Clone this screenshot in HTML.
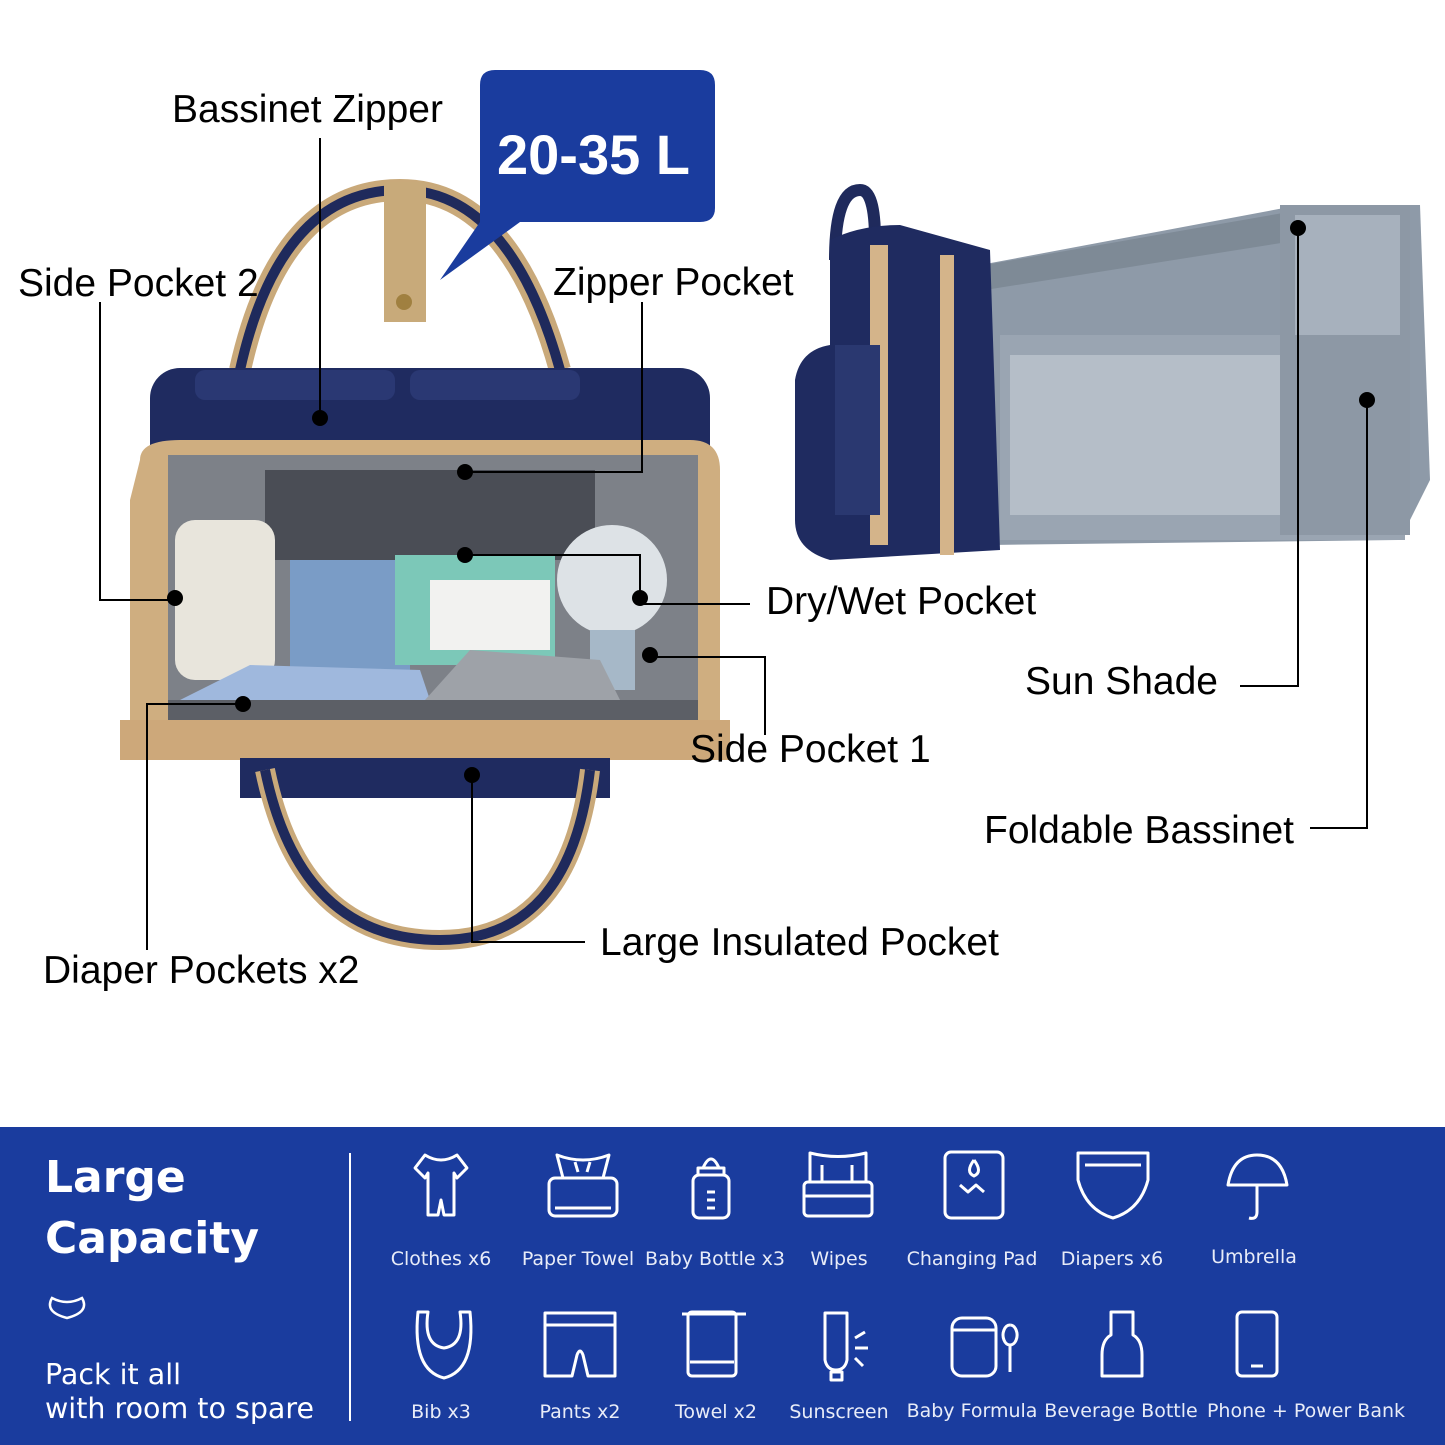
<!DOCTYPE html>
<html><head><meta charset="utf-8"><style>
html,body{margin:0;padding:0;background:#fff}
svg{display:block}
</style></head><body>
<svg width="1445" height="1445" viewBox="0 0 1445 1445" xmlns="http://www.w3.org/2000/svg" font-family="Liberation Sans, sans-serif">
<rect width="1445" height="1445" fill="#fff"/>
<!-- LEFT BAG -->
<path d="M240 370 Q280 190 400 190 Q510 190 560 370" fill="none" stroke="#c9a97a" stroke-width="22"/>
<path d="M240 370 Q280 190 400 190 Q510 190 560 370" fill="none" stroke="#1f2a5c" stroke-width="10"/>
<rect x="384" y="182" width="42" height="140" fill="#c8aa7a"/>
<circle cx="404" cy="302" r="8" fill="#a08040"/>
<rect x="150" y="368" width="560" height="110" rx="30" fill="#1f2b60"/>
<rect x="195" y="370" width="200" height="30" rx="10" fill="#2a3873"/>
<rect x="410" y="370" width="170" height="30" rx="10" fill="#2a3873"/>
<path d="M140 460 Q140 440 180 440 L690 440 Q720 440 720 470 L720 760 L130 760 L130 500 Z" fill="#cfae80"/>
<rect x="168" y="455" width="530" height="250" fill="#7d8188"/>
<rect x="265" y="470" width="330" height="90" fill="#4a4d55"/>
<rect x="175" y="520" width="100" height="160" rx="20" fill="#e8e5dc"/>
<rect x="290" y="560" width="120" height="110" fill="#7a9cc6"/>
<rect x="395" y="555" width="160" height="110" fill="#7cc8b8"/>
<rect x="430" y="580" width="120" height="70" fill="#f2f2f0"/>
<circle cx="612" cy="580" r="55" fill="#dde2e6"/>
<rect x="590" y="630" width="45" height="60" fill="#a6b8c8"/>
<path d="M180 700 L250 665 L420 670 L430 700 Z" fill="#9fb8dd"/>
<path d="M425 700 L470 650 L600 660 L620 700 Z" fill="#9ea2a8"/>
<rect x="168" y="700" width="530" height="30" fill="#5c5f66"/>
<rect x="120" y="720" width="610" height="40" fill="#cda87a"/>
<rect x="240" y="758" width="370" height="40" fill="#1f2b60"/>
<path d="M265 770 Q300 940 440 940 Q570 940 590 770" fill="none" stroke="#c9a97a" stroke-width="20"/>
<path d="M265 770 Q300 940 440 940 Q570 940 590 770" fill="none" stroke="#1f2a5c" stroke-width="10"/>
<!-- RIGHT BAG -->
<path d="M835 260 Q835 190 860 190 Q875 190 875 240" fill="none" stroke="#1f2a5c" stroke-width="12"/>
<path d="M980 265 L1300 205 L1420 205 L1430 480 L1400 540 L990 545 Z" fill="#8e9aa8"/>
<path d="M985 265 L1300 210 L1300 240 L985 290 Z" fill="#7e8a96"/>
<rect x="1000" y="335" width="405" height="205" fill="#9aa5b2"/>
<rect x="1010" y="355" width="385" height="160" fill="#b5bec8"/>
<rect x="1280" y="205" width="130" height="330" fill="#8d98a5"/>
<rect x="1295" y="215" width="105" height="120" fill="#a7b1bd"/>
<path d="M830 240 Q860 225 900 225 L990 250 L1000 550 L830 560 Q795 550 795 520 L795 380 Q800 350 830 345 Z" fill="#1f2b60"/>
<rect x="870" y="245" width="18" height="300" fill="#d4b48a"/>
<rect x="940" y="255" width="14" height="300" fill="#d4b48a"/>
<rect x="835" y="345" width="45" height="170" fill="#2a3870"/>
<!-- Callout -->
<path d="M495 70 H700 Q715 70 715 85 V208 Q715 222 700 222 H520 L440 280 L480 222 V85 Q480 70 495 70 Z" fill="#1a3c9e"/>
<text x="497" y="174" font-size="56" font-weight="bold" fill="#fff">20-35 L</text>
<!-- Labels -->
<g font-size="39" fill="#000">
<text x="172" y="122">Bassinet Zipper</text>
<text x="18" y="296">Side Pocket 2</text>
<text x="553" y="295">Zipper Pocket</text>
<text x="766" y="614">Dry/Wet Pocket</text>
<text x="1025" y="694">Sun Shade</text>
<text x="690" y="762">Side Pocket 1</text>
<text x="984" y="843">Foldable Bassinet</text>
<text x="600" y="955">Large Insulated Pocket</text>
<text x="43" y="983">Diaper Pockets x2</text>
</g>
<g fill="none" stroke="#000" stroke-width="2">
<path d="M320 138 V418"/>
<path d="M100 302 V600 H175"/>
<path d="M642 302 V472 H465"/>
<path d="M465 555 H640 V604 H750"/>
<path d="M650 657 H765 V735"/>
<path d="M147 950 V704 H243"/>
<path d="M472 775 V942 H585"/>
<path d="M1298 228 V686 H1240"/>
<path d="M1367 400 V828 H1310"/>
</g>
<g fill="#000">
<circle cx="320" cy="418" r="8"/><circle cx="175" cy="598" r="8"/><circle cx="465" cy="472" r="8"/>
<circle cx="465" cy="555" r="8"/><circle cx="640" cy="598" r="8"/><circle cx="650" cy="655" r="8"/>
<circle cx="243" cy="704" r="8"/><circle cx="472" cy="775" r="8"/><circle cx="1298" cy="228" r="8"/><circle cx="1367" cy="400" r="8"/>
</g>
<!-- BAND -->
<rect x="0" y="1127" width="1445" height="318" fill="#1a3c9e"/>
<line x1="350" y1="1153" x2="350" y2="1421" stroke="#fff" stroke-width="2"/>
<g fill="#fff" font-family="DejaVu Sans, sans-serif">
<text x="45" y="1192" font-size="44" font-weight="bold">Large</text>
<text x="45" y="1253" font-size="44" font-weight="bold">Capacity</text>
<text x="45" y="1384" font-size="28.5">Pack it all</text>
<text x="45" y="1418" font-size="28.5">with room to spare</text>
</g>
<path d="M52 1298 Q67 1306 82 1298 Q90 1312 67 1318 Q44 1312 52 1298 Z" fill="none" stroke="#fff" stroke-width="2.5"/>
<g fill="#e8ecf8" font-family="DejaVu Sans, sans-serif" font-size="19" text-anchor="middle">
<text x="441" y="1265">Clothes x6</text><text x="578" y="1265">Paper Towel</text><text x="715" y="1265">Baby Bottle x3</text><text x="839" y="1265">Wipes</text><text x="972" y="1265">Changing Pad</text><text x="1112" y="1265">Diapers x6</text><text x="1254" y="1263">Umbrella</text>
<text x="441" y="1418">Bib x3</text><text x="580" y="1418">Pants x2</text><text x="716" y="1418">Towel x2</text><text x="839" y="1418">Sunscreen</text><text x="972" y="1417">Baby Formula</text><text x="1121" y="1417">Beverage Bottle</text><text x="1306" y="1417">Phone + Power Bank</text>
</g>
<g fill="none" stroke="#fff" stroke-width="3" stroke-linejoin="round">
<path d="M425 1155 L415 1168 L425 1178 L428 1173 L428 1215 L438 1215 L441 1200 L444 1215 L454 1215 L454 1173 L457 1178 L467 1168 L457 1155 Q441 1165 425 1155 Z"/>
<rect x="549" y="1178" width="68" height="38" rx="6"/><path d="M557 1155 Q583 1165 609 1155 L603 1178 L563 1178 Z M555 1208 H611 M575 1162 L578 1172 M590 1162 L587 1172"/>
<rect x="693" y="1175" width="36" height="43" rx="6"/><path d="M698 1175 V1168 H724 V1175 M703 1168 Q711 1150 719 1168 M707 1192 H715 M707 1200 H715 M707 1208 H715"/>
<rect x="804" y="1182" width="68" height="34" rx="4"/><path d="M810 1182 L810 1153 Q838 1160 866 1153 L866 1182 M804 1196 H872 M822 1165 V1182 M852 1165 V1182"/>
<rect x="945" y="1152" width="58" height="66" rx="6"/><path d="M960 1185 L968 1192 L976 1185 L984 1192 M974 1160 Q965 1172 974 1176 Q983 1172 974 1160"/>
<path d="M1078 1153 H1148 V1180 Q1140 1210 1113 1218 Q1086 1210 1078 1180 Z M1085 1165 H1141"/>
<path d="M1228 1185 Q1233 1155 1257 1155 Q1282 1155 1287 1185 Z M1257 1185 V1212 Q1257 1220 1249 1218"/>
<path d="M418 1312 Q412 1370 444 1378 Q476 1370 470 1312 L460 1312 Q465 1345 444 1348 Q423 1345 428 1312 Z"/>
<path d="M545 1313 H615 V1376 H588 L583 1355 Q580 1347 577 1355 L572 1376 H545 Z M545 1325 H615"/>
<rect x="688" y="1312" width="48" height="64" rx="4"/><path d="M682 1314 H746 M690 1362 H734"/>
<path d="M825 1313 H847 V1360 Q845 1370 836 1370 Q827 1370 825 1360 Z M831 1372 H842 V1380 H831 Z M855 1338 L865 1332 M855 1348 H868 M855 1358 L863 1366"/>
<rect x="952" y="1318" width="44" height="58" rx="10"/><path d="M952 1330 H996 M1010 1325 a7 10 0 1 0 0.1 0 M1010 1345 V1372"/>
<path d="M1111 1312 H1133 V1335 Q1142 1340 1142 1355 V1376 H1102 V1355 Q1102 1340 1111 1335 Z"/>
<rect x="1237" y="1312" width="40" height="64" rx="5"/><path d="M1251 1366 H1263"/>
</g>
</svg>
</body></html>
